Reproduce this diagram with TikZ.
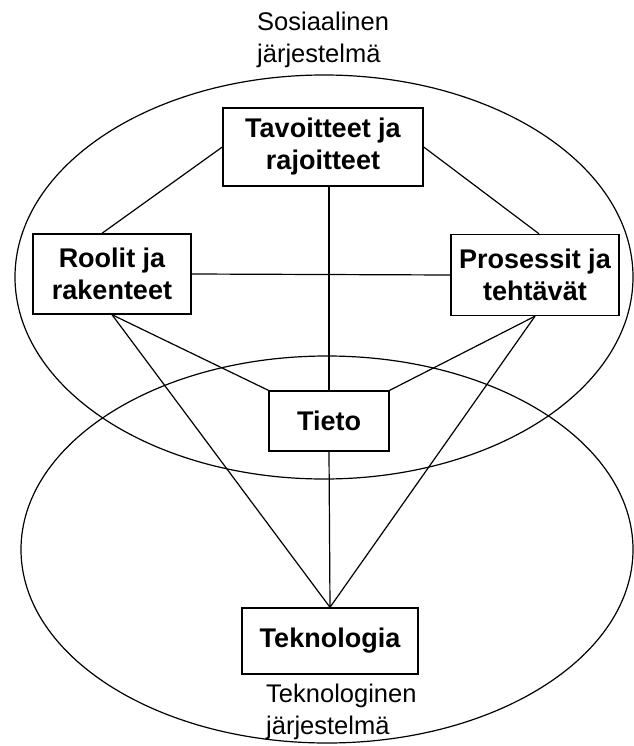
\documentclass[tikz,border=0pt]{standalone}
\usepackage{fontspec}
\setmainfont{Liberation Sans}
\begin{document}
\begin{tikzpicture}[x=1pt,y=-1pt,
  box/.style={draw, line width=1.4pt, fill=white, font=\fontsize{27}{32}\selectfont\bfseries, align=center, inner sep=0pt},
  lbl/.style={font=\fontsize{25.5}{32}\selectfont, align=left, inner sep=0pt},
  conn/.style={line width=1.2pt},
  ring/.style={line width=1.2pt}]
\useasboundingbox (0,0) rectangle (633,746);
\draw[ring] (324,277) ellipse [x radius=309, y radius=202];
\draw[ring] (327,549.5) ellipse [x radius=306, y radius=193.5];

\node[box, minimum width=200pt, minimum height=78pt] (tav) at (323,147) {Tavoitteet ja\\rajoitteet};
\node[box, minimum width=158pt, minimum height=80pt] (rool) at (112,274) {Roolit ja\\rakenteet};
\node[box, minimum width=168pt, minimum height=81pt] (pros) at (535,275) {Prosessit ja\\tehtävät};
\node[box, minimum width=120pt, minimum height=60pt] (tieto) at (329,421) {Tieto};
\node[box, minimum width=176pt, minimum height=66pt] (tekn) at (330,641) {Teknologia};

\node[lbl, anchor=north west] (soslbl) at (257,11.5) {Sosiaalinen\\järjestelmä};
\node[lbl, anchor=north west] (teklbl) at (266,683.5) {Teknologinen\\järjestelmä};

\draw[conn] (tav.west) -- ([xshift=-10pt]rool.north);
\draw[conn] (tav.east) -- ([xshift=4pt]pros.north);
\draw[conn] (tav.south -| tieto.north) -- (tieto.north);
\draw[conn] (rool.east) -- (pros.west);
\draw[conn] (rool.south) -- (tieto.north west);
\draw[conn] (rool.south) -- (tekn.north);
\draw[conn] (pros.south) -- (tieto.north east);
\draw[conn] (pros.south) -- (tekn.north);
\draw[conn] (tieto.south) -- (tekn.north);
\end{tikzpicture}
\end{document}
